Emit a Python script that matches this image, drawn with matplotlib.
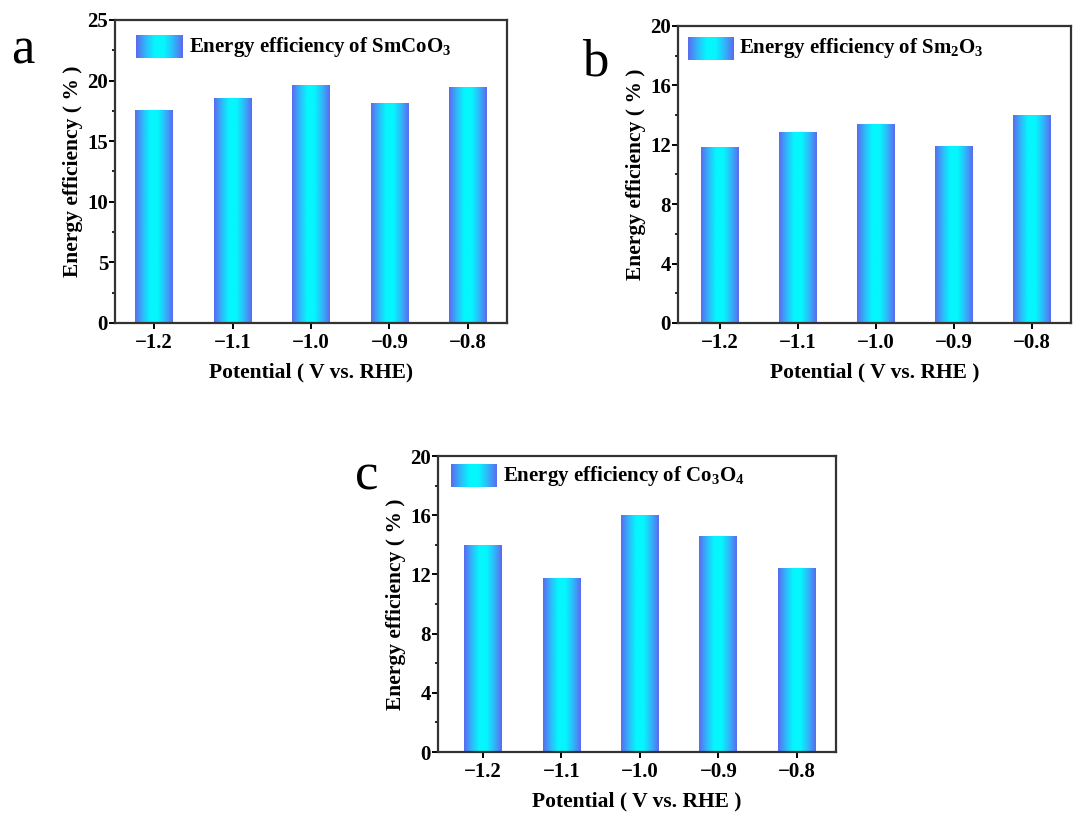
import numpy as np
import matplotlib
matplotlib.use("Agg")
import matplotlib.pyplot as plt
from matplotlib.colors import LinearSegmentedColormap
from matplotlib.ticker import MultipleLocator

plt.rcParams['font.family'] = ['Liberation Serif', 'DejaVu Serif']
plt.rcParams['mathtext.fontset'] = 'custom'
plt.rcParams['mathtext.rm'] = 'Liberation Serif:bold'
plt.rcParams['mathtext.it'] = 'Liberation Serif:bold'
plt.rcParams['mathtext.bf'] = 'Liberation Serif:bold'

# --- data ---
potentials = [-1.2, -1.1, -1.0, -0.9, -0.8]
tick_labels = ['\u22121.2', '\u22121.1', '\u22121.0', '\u22120.9', '\u22120.8']
ee_smcoo3 = [17.5, 18.5, 19.6, 18.1, 19.45]
ee_sm2o3 = [11.85, 12.85, 13.4, 11.9, 14.0]
ee_co3o4 = [13.95, 11.75, 15.95, 14.55, 12.4]

grad_cmap = LinearSegmentedColormap.from_list(
    'bluecyan', ['#5a6cf0', '#2fb8fa', '#05f6fd', '#05f6fd', '#2fb8fa', '#5a6cf0'])
grad = np.linspace(0, 1, 64).reshape(1, -1)

fig = plt.figure(figsize=(10.73, 8.19), dpi=100)


def panel(rect, vals, ymax, ystep, xlim, letter, letter_xy, legend_txt,
          leg_box, xlabel):
    ax = fig.add_axes(rect)
    width = 0.048
    for x, v in zip(potentials, vals):
        ax.imshow(grad, extent=[x - width / 2, x + width / 2, 0, v],
                  aspect='auto', cmap=grad_cmap, zorder=2, interpolation='bilinear')
    ax.set_xticks(potentials)
    ax.set_xticklabels(tick_labels)
    ax.yaxis.set_major_locator(MultipleLocator(ystep))
    ax.yaxis.set_minor_locator(MultipleLocator(ystep / 2))
    for sp in ax.spines.values():
        sp.set_linewidth(1.6)
        sp.set_color('#333333')
    ax.tick_params(axis='both', which='major', direction='out', length=4,
                   width=1.4, labelsize=15)
    ax.tick_params(axis='x', which='major', pad=3)
    ax.tick_params(axis='y', which='major', pad=1)
    ax.tick_params(axis='y', which='minor', direction='out', length=2.5, width=1.2)
    for lbl in ax.get_xticklabels() + ax.get_yticklabels():
        lbl.set_fontweight('bold')
    ax.set_ylabel('Energy efficiency ( % )', fontsize=15.5, fontweight='bold',
                  labelpad=3)
    ax.set_xlabel(xlabel, fontsize=15.5, fontweight='bold', labelpad=7)

    # legend: gradient swatch + label
    x0, x1, y0, y1 = leg_box
    ax.imshow(grad, extent=[x0, x1, y0, y1], aspect='auto', cmap=grad_cmap,
              zorder=3, interpolation='bilinear', transform=ax.transAxes)
    ax.set_xlim(*xlim)
    ax.set_ylim(0, ymax)
    ax.text(x1 + 0.015, (y0 + y1) / 2, legend_txt, transform=ax.transAxes,
            fontsize=15, fontweight='bold', va='center', ha='left')

    fig.text(letter_xy[0], letter_xy[1], letter, fontsize=38, ha='left',
             va='baseline')
    return ax


panel([115 / 1073, 1 - 323 / 819, 392 / 1073, 303 / 819], ee_smcoo3, 25, 5,
      (-1.25, -0.75), 'a', (11 / 1073, 1 - 64 / 819),
      'Energy efficiency of SmCoO$_3$', (0.054, 0.173, 0.875, 0.950),
      'Potential ( V vs. RHE)')

panel([678 / 1073, 1 - 323 / 819, 393 / 1073, 297 / 819], ee_sm2o3, 20, 4,
      (-1.254, -0.75), 'b', (582 / 1073, 1 - 75 / 819),
      'Energy efficiency of Sm$_2$O$_3$', (0.025, 0.140, 0.886, 0.963),
      'Potential ( V vs. RHE )')

panel([438 / 1073, 1 - 752 / 819, 398 / 1073, 296 / 819], ee_co3o4, 20, 4,
      (-1.2573, -0.750), 'c', (355 / 1073, 1 - 489 / 819),
      'Energy efficiency of Co$_3$O$_4$', (0.033, 0.148, 0.895, 0.970),
      'Potential ( V vs. RHE )')

fig.savefig('out.png', dpi=100, facecolor='white')
